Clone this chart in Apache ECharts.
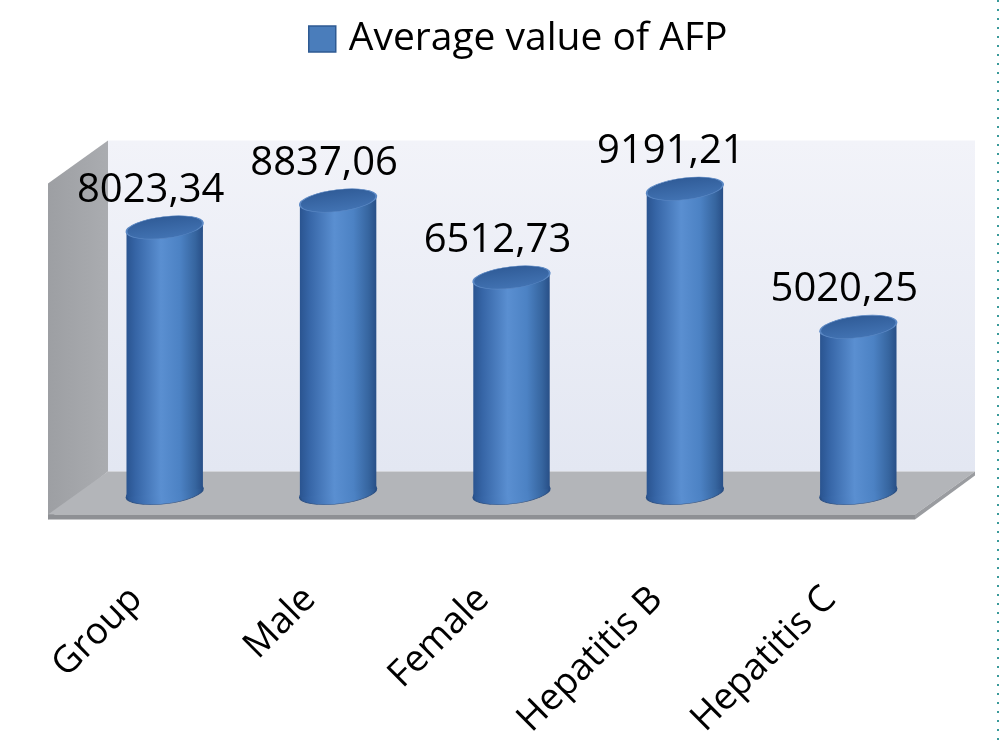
<!DOCTYPE html>
<html>
<head>
<meta charset="utf-8">
<script src="https://cdn.jsdelivr.net/npm/echarts@6/dist/echarts.min.js"></script>
<style>html,body{margin:0;padding:0;background:#fff}#c{width:1000px;height:746px}</style>
</head>
<body>
<div id="c"></div>
<script>
// ---- data ----
const categories = ['Group', 'Male', 'Female', 'Hepatitis B', 'Hepatitis C'];
const seriesName = 'Average value of AFP';
const values = [8023.34, 8837.06, 6512.73, 9191.21, 5020.25];
const axisMin = 0;
const axisMax = 10000;

const FONT = '"Open Sans", "Noto Sans", sans-serif';
const DX = 30, DY = 21.5; // half of the 3D depth offset
const LG = echarts.graphic.LinearGradient;

function fmt(v) { return v.toFixed(2).replace('.', ','); }

function bodyGrad() {
  return new LG(0, 0, 1, 0, [
    { offset: 0, color: '#2a5490' },
    { offset: 0.12, color: '#3665a6' },
    { offset: 0.45, color: '#5a8fd1' },
    { offset: 0.7, color: '#4c82c4' },
    { offset: 0.9, color: '#36659f' },
    { offset: 1, color: '#284f87' }
  ]);
}

function renderWalls(params, api) {
  const cs = params.coordSys;
  const gx = cs.x, gy = cs.y, gw = cs.width, gh = cs.height, B = gy + gh;
  return {
    type: 'group',
    children: [
      { type: 'rect', shape: { x: gx + DX, y: gy - DY, width: gw, height: gh },
        style: { fill: new LG(0, 0, 0, 1, [{ offset: 0, color: '#f2f3f9' }, { offset: 1, color: '#e3e7f2' }]) } },
      { type: 'polygon', shape: { points: [[gx - DX, gy + DY], [gx + DX, gy - DY], [gx + DX, B - DY], [gx - DX, B + DY + 5]] },
        style: { fill: new LG(0, 0, 1, 0, [{ offset: 0, color: '#9d9fa3' }, { offset: 1, color: '#aaacb0' }]) } },
      { type: 'polygon', shape: { points: [[gx + DX, B - DY], [gx + gw + DX, B - DY], [gx + gw - DX, B + DY], [gx - DX, B + DY]] },
        style: { fill: '#b3b5b9' } },
      { type: 'polygon', shape: { points: [[gx - DX, B + DY], [gx + gw - DX, B + DY], [gx + gw - DX, B + DY + 5], [gx - DX, B + DY + 5]] },
        style: { fill: '#8e9094' } },
      { type: 'polygon', shape: { points: [[gx + gw - DX, B + DY], [gx + gw + DX, B - DY], [gx + gw + DX, B - DY + 4], [gx + gw - DX, B + DY + 5]] },
        style: { fill: '#9a9ca0' } }
    ]
  };
}

function renderCyl(params, api) {
  const idx = api.value(0), v = api.value(1);
  const top = api.coord([idx, v]);
  const base = api.coord([idx, 0]);
  const band = api.size([1, 0])[0];
  const rx = band * 0.222, ry = rx * 0.28;
  const rot = 0.12, c = Math.cos(rot), s = Math.sin(rot);
  const cx = top[0], ty = top[1], by = base[1];
  return {
    type: 'group',
    children: [
      { type: 'circle', x: cx, y: by, rotation: rot, scaleY: ry / rx, shape: { cx: 0, cy: 0, r: rx },
        style: { fill: bodyGrad(), stroke: '#2a4f84', lineWidth: 1, strokeNoScale: true } },
      { type: 'polygon', shape: { points: [[cx - rx * c, ty + rx * s], [cx + rx * c, ty - rx * s], [cx + rx * c, by - rx * s], [cx - rx * c, by + rx * s]] },
        style: { fill: bodyGrad() } },
      { type: 'circle', x: cx, y: ty, rotation: rot, scaleY: ry / rx, shape: { cx: 0, cy: 0, r: rx },
        style: { fill: new LG(0, 0, 0, 1, [{ offset: 0, color: '#305c98' }, { offset: 1, color: '#4273b3' }]),
                 stroke: '#5b88c4', lineWidth: 1, strokeNoScale: true } },
      { type: 'text', x: cx - 14, y: ty - 37,
        style: { text: fmt(v), fill: '#000', font: '40px ' + FONT, align: 'center', verticalAlign: 'middle' } }
    ]
  };
}

const chart = echarts.init(document.getElementById('c'), null, { renderer: 'canvas' });
chart.setOption({
  backgroundColor: '#ffffff',
  animation: false,
  legend: {
    data: [seriesName], left: 303, top: 14.5,
    itemWidth: 27, itemHeight: 26, icon: 'rect',
    itemStyle: { borderColor: '#2e5a92', borderWidth: 1.5 },
    textStyle: { fontFamily: FONT, fontSize: 39, color: '#000', padding: [0, 0, 0, 8] }
  },
  grid: { left: 78, right: 55, top: 162, bottom: 253 },
  xAxis: {
    type: 'category', data: categories,
    axisLine: { show: false }, axisTick: { show: false }, splitLine: { show: false },
    axisLabel: { rotate: 45, margin: 72, padding: [0, 40, 0, 0], fontFamily: FONT, fontSize: 37, color: '#000', interval: 0 }
  },
  yAxis: { type: 'value', min: axisMin, max: axisMax, show: false, splitLine: { show: false } },
  graphic: [
    { type: 'line', shape: { x1: 998, y1: 0, x2: 998, y2: 746 }, style: { stroke: '#3a9a9a', lineWidth: 2, lineDash: [2, 7] } }
  ],
  series: [
    { name: 'walls', type: 'custom', coordinateSystem: 'cartesian2d', silent: true, z: 1,
      renderItem: renderWalls, data: [[0, 0]] },
    { name: seriesName, type: 'custom', coordinateSystem: 'cartesian2d', z: 2,
      itemStyle: { color: '#4a7dbb' },
      renderItem: renderCyl, data: values.map((v, i) => [i, v]) }
  ]
});
</script>
</body>
</html>
